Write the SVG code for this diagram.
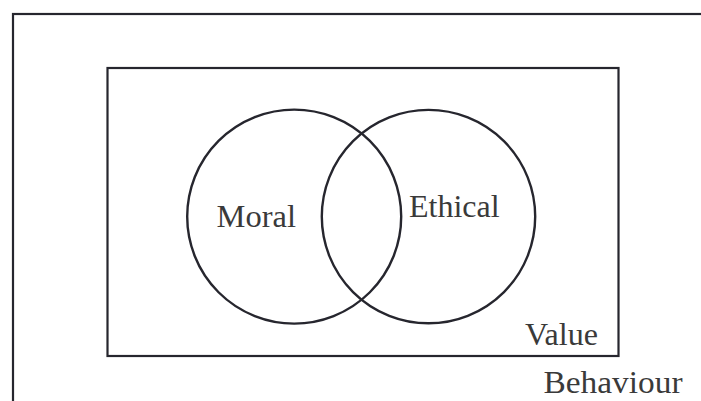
<svg xmlns="http://www.w3.org/2000/svg" width="701" height="401" viewBox="0 0 701 401">
<style>
.box{fill:none;stroke:#26262e;stroke-width:2.2}
.set{fill:none;stroke:#26262e;stroke-width:2.4}
.lbl{font-family:"Liberation Serif","Times New Roman",serif;fill:#3a3a3a}
</style>
<rect width="701" height="401" fill="#ffffff"/>
<g id="behaviour">
<rect class="box" x="13" y="14" width="700" height="400"/>
<text class="lbl" x="543.5" y="392.5" font-size="31.5" textLength="139" lengthAdjust="spacingAndGlyphs">Behaviour</text>
</g>
<g id="value">
<rect class="box" x="107.5" y="68" width="511" height="288"/>
<text class="lbl" x="525" y="345" font-size="31" textLength="73" lengthAdjust="spacingAndGlyphs">Value</text>
</g>
<g id="moral">
<circle class="set" cx="294.2" cy="216.6" r="107"/>
<text class="lbl" x="216.5" y="226.7" font-size="32.5">Moral</text>
</g>
<g id="ethical">
<circle class="set" cx="428.5" cy="216.6" r="106.7"/>
<text class="lbl" x="409" y="216.7" font-size="32">Ethical</text>
</g>
<g id="connectors"></g>
</svg>
